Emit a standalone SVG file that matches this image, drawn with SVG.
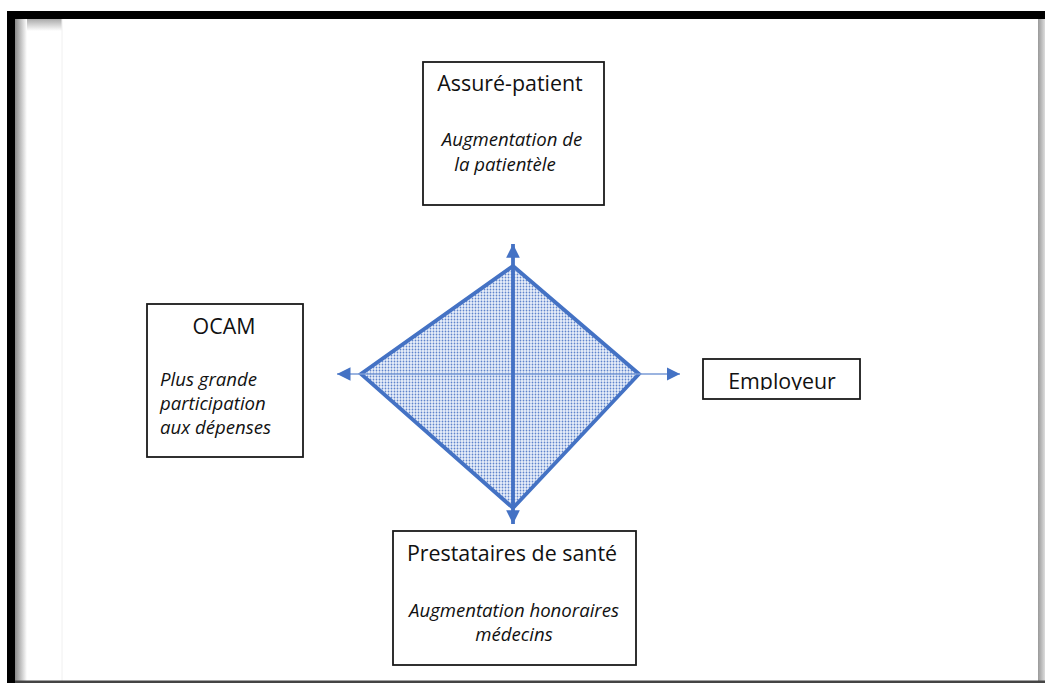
<svg xmlns="http://www.w3.org/2000/svg" width="1045" height="683" viewBox="0 0 1045 683">
<style>
.box{fill:#fff;stroke:#1a1a1a;stroke-width:1.8}
.t{font-family:"Open Sans","Liberation Sans",sans-serif;font-size:21.4px;fill:#111}
.i{font-family:"Open Sans","Liberation Sans",sans-serif;font-size:18.6px;font-style:italic;fill:#111}
</style>
<defs>
<linearGradient id="shL" x1="0" x2="1" y1="0" y2="0">
<stop offset="0" stop-color="#888"/><stop offset="1" stop-color="#fff"/>
</linearGradient>
<linearGradient id="shT" x1="0" x2="0" y1="0" y2="1">
<stop offset="0" stop-color="#aaa"/><stop offset="1" stop-color="#fff"/>
</linearGradient>
<linearGradient id="shR" x1="0" x2="1" y1="0" y2="0">
<stop offset="0" stop-color="#999"/><stop offset="1" stop-color="#ddd"/>
</linearGradient>
<pattern id="dots" width="3" height="3" patternUnits="userSpaceOnUse">
<rect width="3" height="3" fill="#eaf0fa"/>
<circle cx="1.5" cy="1.5" r="0.9" fill="#5f84cc"/>
</pattern>
<marker id="ah" viewBox="0 0 10 10" refX="10" refY="5" markerWidth="3.6" markerHeight="3.6" orient="auto" markerUnits="strokeWidth">
<path d="M0,0 L10,5 L0,10 z" fill="#4472c4"/>
</marker>
<marker id="ahs" viewBox="0 0 10 10" refX="10" refY="5" markerWidth="9" markerHeight="9" orient="auto" markerUnits="strokeWidth">
<path d="M0,0 L10,5 L0,10 z" fill="#4472c4"/>
</marker>
<clipPath id="empClip"><rect x="704" y="360" width="155" height="30"/></clipPath>
</defs>
<g id="frame">
<rect x="0" y="0" width="1045" height="683" fill="#fff"/>
<rect x="15" y="19" width="47" height="12" fill="url(#shT)"/>
<rect x="15" y="19" width="12" height="664" fill="url(#shL)"/>
<line x1="62" y1="19" x2="62" y2="683" stroke="#f0f0f0" stroke-width="1"/>
<rect x="1038" y="19" width="7" height="664" fill="url(#shR)"/>
<rect x="7" y="11" width="1038" height="8" fill="#000"/>
<rect x="7" y="11" width="8" height="672" fill="#000"/>
<rect x="15" y="680.5" width="1030" height="2.5" fill="#444"/>
</g>
<g id="diamond">
<polygon points="513,266 639,374 513,508 361,374" fill="url(#dots)" stroke="#4472c4" stroke-width="3.8" stroke-linejoin="miter"/>
</g>
<g id="connectors">
<line x1="513" y1="374" x2="680" y2="374" stroke="#7a9bd6" stroke-width="1.5" marker-end="url(#ahs)"/>
<line x1="513" y1="374" x2="337" y2="374" stroke="#7a9bd6" stroke-width="1.5" marker-end="url(#ahs)"/>
<line x1="513" y1="374" x2="513" y2="244" stroke="#4472c4" stroke-width="3.8" marker-end="url(#ah)"/>
<line x1="513" y1="374" x2="513" y2="524" stroke="#4472c4" stroke-width="3.8" marker-end="url(#ah)"/>
</g>
<g id="assure">
<rect class="box" x="423" y="62" width="181" height="143"/>
<text class="t" x="510" y="91" text-anchor="middle">Assuré-patient</text>
<text class="i" x="512" y="146" text-anchor="middle">Augmentation de</text>
<text class="i" x="505" y="171" text-anchor="middle">la patientèle</text>
</g>
<g id="ocam">
<rect class="box" x="147" y="304" width="156" height="153"/>
<text class="t" x="224" y="334" text-anchor="middle">OCAM</text>
<text class="i" x="160" y="386">Plus grande</text>
<text class="i" x="160" y="410">participation</text>
<text class="i" x="160" y="434">aux dépenses</text>
</g>
<g id="employeur">
<rect class="box" x="703" y="359" width="157" height="40"/>
<text class="t" x="782" y="389" text-anchor="middle" clip-path="url(#empClip)">Employeur</text>
</g>
<g id="prestataires">
<rect class="box" x="393" y="531" width="243" height="134"/>
<text class="t" x="512" y="561" text-anchor="middle">Prestataires de santé</text>
<text class="i" x="514" y="617" text-anchor="middle">Augmentation honoraires</text>
<text class="i" x="514" y="641" text-anchor="middle">médecins</text>
</g>
</svg>
